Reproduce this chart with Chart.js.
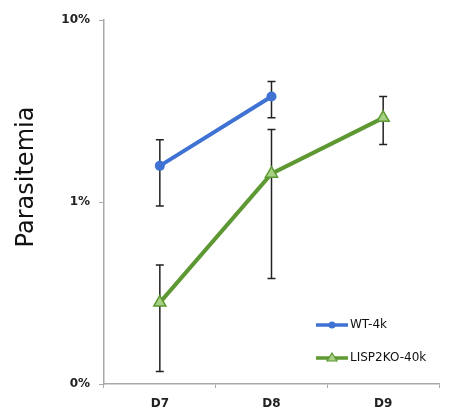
<!DOCTYPE html>
<html><head><meta charset="utf-8">
<script src="https://cdn.jsdelivr.net/npm/chart.js@4/dist/chart.umd.min.js"></script>
<style>html,body{margin:0;padding:0;background:#fff}#w{width:452px;height:410px}</style>
</head><body><div id="w"><canvas id="c" width="452" height="410"></canvas></div>
<script>
const categories = ['D7', 'D8', 'D9'];
const wtValues = [1.58, 3.8, null];
const wtLow = [0.95, 2.9, null];
const wtHigh = [2.2, 4.6, null];
const koValues = [0.28, 1.43, 2.9];
const koLow = [0.117, 0.38, 2.07];
const koHigh = [0.45, 2.5, 3.8];
const yTickValues = [0.1, 1, 10];
const yTickLabels = ['0%', '1%', '10%'];
const seriesNames = ['WT-4k', 'LISP2KO-40k'];
const yTitle = 'Parasitemia';

const FONT = "'DejaVu Sans', sans-serif";
const BLUE = '#3f72d3';
const GREEN = '#5d9832';
const GREEN_FILL = '#a6d082';

const errorBars = {
  id: 'errorBars',
  beforeDatasetsDraw(chart) {
    const ctx = chart.ctx, x = chart.scales.x, y = chart.scales.y;
    const sets = [[wtLow, wtHigh], [koLow, koHigh]];
    ctx.save();
    ctx.strokeStyle = '#222';
    ctx.lineWidth = 1.5;
    sets.forEach(([lo, hi]) => {
      lo.forEach((l, i) => {
        if (l == null) return;
        const px = x.getPixelForValue(i);
        const y1 = y.getPixelForValue(l), y2 = y.getPixelForValue(hi[i]);
        ctx.beginPath();
        ctx.moveTo(px, y1); ctx.lineTo(px, y2);
        ctx.moveTo(px - 4, y1); ctx.lineTo(px + 4, y1);
        ctx.moveTo(px - 4, y2); ctx.lineTo(px + 4, y2);
        ctx.stroke();
      });
    });
    ctx.restore();
  }
};

const titleAndLegend = {
  id: 'titleAndLegend',
  afterDraw(chart) {
    const ctx = chart.ctx;
    ctx.save();
    ctx.translate(27, 177);
    ctx.rotate(-Math.PI / 2);
    ctx.fillStyle = '#111';
    ctx.font = '24px ' + FONT;
    ctx.textAlign = 'center';
    ctx.textBaseline = 'middle';
    ctx.fillText(yTitle, 0, 0);
    ctx.restore();

    const items = [
      {name: seriesNames[0], color: BLUE, y: 325, tri: false},
      {name: seriesNames[1], color: GREEN, y: 358, tri: true}
    ];
    ctx.save();
    items.forEach(it => {
      ctx.strokeStyle = it.color;
      ctx.lineWidth = 3.5;
      ctx.beginPath(); ctx.moveTo(316, it.y); ctx.lineTo(348, it.y); ctx.stroke();
      if (it.tri) {
        ctx.fillStyle = GREEN_FILL; ctx.lineWidth = 1.2;
        ctx.beginPath(); ctx.moveTo(332, it.y - 5); ctx.lineTo(337, it.y + 3); ctx.lineTo(327, it.y + 3); ctx.closePath();
        ctx.fill(); ctx.stroke();
      } else {
        ctx.fillStyle = BLUE;
        ctx.beginPath(); ctx.arc(332, it.y, 3.5, 0, Math.PI * 2); ctx.fill();
      }
      ctx.fillStyle = '#111';
      ctx.font = '12px ' + FONT;
      ctx.textBaseline = 'middle';
      ctx.textAlign = 'left';
      ctx.fillText(it.name, 350, it.y);
    });
    ctx.restore();
  }
};

new Chart(document.getElementById('c'), {
  type: 'line',
  data: {
    labels: categories,
    datasets: [
      {label: seriesNames[0], data: wtValues, borderColor: BLUE, backgroundColor: BLUE,
       borderWidth: 4, pointStyle: 'circle', pointRadius: 5, pointBorderWidth: 0, spanGaps: false},
      {label: seriesNames[1], data: koValues, borderColor: GREEN, backgroundColor: GREEN_FILL,
       borderWidth: 4, pointStyle: 'triangle', pointRadius: 7, pointBorderWidth: 1.5, pointBorderColor: GREEN}
    ]
  },
  options: {
    responsive: false,
    animation: false,
    layout: {padding: {left: 0, top: 20, right: 13, bottom: 0}},
    plugins: {legend: {display: false}, tooltip: {enabled: false}},
    scales: {
      x: {
        type: 'category', offset: true,
        grid: {display: true, drawOnChartArea: false, offset: true, tickLength: 4, color: '#aaa'},
        border: {color: '#aaa', width: 1.5},
        ticks: {font: {family: FONT, size: 12, weight: 'bold'}, color: '#222', padding: 9, maxRotation: 0},
        afterFit(s) { s.height = 26; }
      },
      y: {
        type: 'logarithmic', min: 0.1, max: 10,
        grid: {display: true, drawOnChartArea: false, tickLength: 5, color: '#aaa'},
        border: {color: '#aaa', width: 1.5},
        afterBuildTicks(s) { s.ticks = yTickValues.map(v => ({value: v})); },
        ticks: {
          font: {family: FONT, size: 12, weight: 'bold'}, color: '#222', padding: 9,
          callback: (v) => { const i = yTickValues.indexOf(v); return i >= 0 ? yTickLabels[i] : ''; }
        },
        afterFit(s) { s.width = 104; }
      }
    }
  },
  plugins: [errorBars, titleAndLegend]
});
</script>
</body></html>
